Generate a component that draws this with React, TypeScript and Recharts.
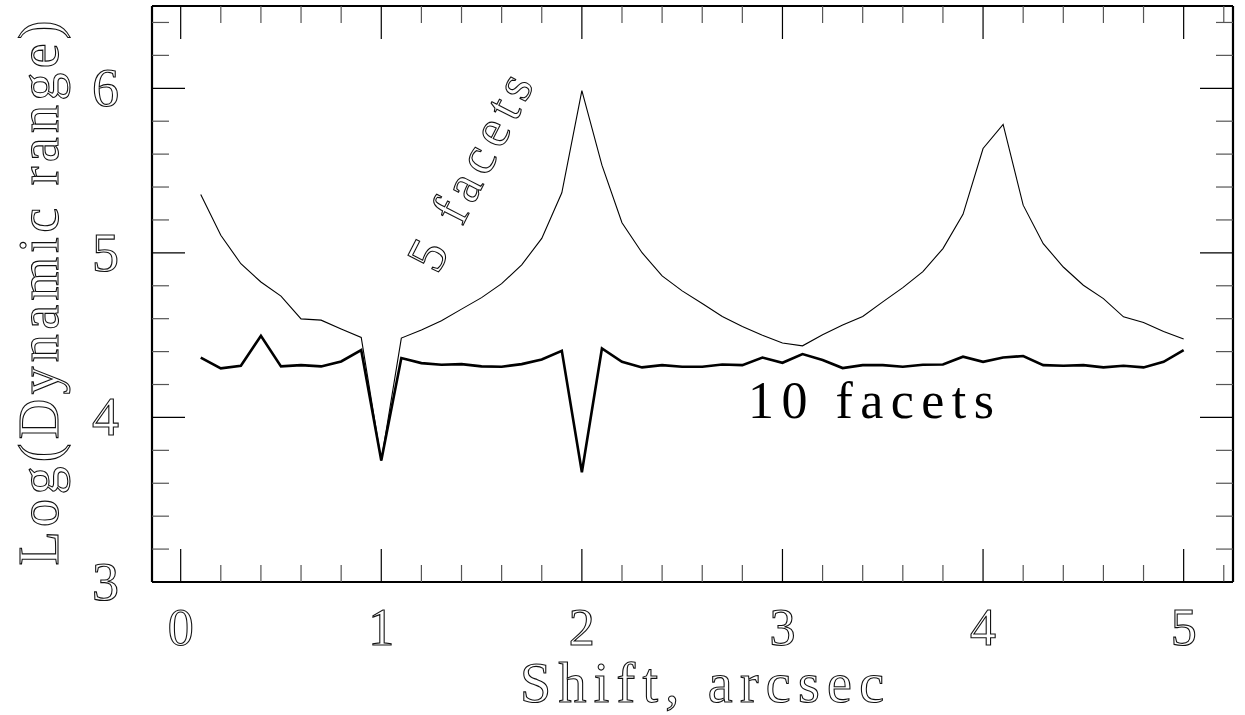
import React from 'react';
import { LineChart, Line, XAxis, YAxis, Customized } from 'recharts';

// shift in arcsec
const shifts = [
  0.1, 0.2, 0.3, 0.4, 0.5, 0.6, 0.7, 0.8, 0.9, 1.0,
  1.1, 1.2, 1.3, 1.4, 1.5, 1.6, 1.7, 1.8, 1.9, 2.0,
  2.1, 2.2, 2.3, 2.4, 2.5, 2.6, 2.7, 2.8, 2.9, 3.0,
  3.1, 3.2, 3.3, 3.4, 3.5, 3.6, 3.7, 3.8, 3.9, 4.0,
  4.1, 4.2, 4.3, 4.4, 4.5, 4.6, 4.7, 4.8, 4.9, 5.0,
];

// log(dynamic range), 5 facets
const facets5 = [
  5.355, 5.107, 4.934, 4.823, 4.737, 4.599, 4.591, 4.537, 4.486, 3.738,
  4.482, 4.531, 4.587, 4.658, 4.728, 4.813, 4.927, 5.088, 5.365, 5.986,
  5.533, 5.183, 5.001, 4.860, 4.769, 4.692, 4.613, 4.552, 4.500, 4.452,
  4.435, 4.502, 4.561, 4.613, 4.702, 4.789, 4.886, 5.026, 5.234, 5.634,
  5.780, 5.290, 5.056, 4.914, 4.803, 4.722, 4.611, 4.577, 4.522, 4.476,
];

// log(dynamic range), 10 facets
const facets10 = [
  4.364, 4.298, 4.314, 4.496, 4.310, 4.318, 4.310, 4.340, 4.409, 3.738,
  4.361, 4.330, 4.320, 4.324, 4.310, 4.308, 4.324, 4.352, 4.405, 3.667,
  4.419, 4.338, 4.304, 4.318, 4.308, 4.308, 4.322, 4.318, 4.364, 4.332,
  4.385, 4.349, 4.300, 4.318, 4.318, 4.308, 4.320, 4.322, 4.369, 4.338,
  4.364, 4.373, 4.318, 4.314, 4.318, 4.304, 4.314, 4.304, 4.338, 4.409,
];

const xTicks = [
  0, 0.2, 0.4, 0.6, 0.8, 1, 1.2, 1.4, 1.6, 1.8, 2, 2.2, 2.4, 2.6,
  2.8, 3, 3.2, 3.4, 3.6, 3.8, 4, 4.2, 4.4, 4.6, 4.8, 5, 5.2,
];
const yTicks = [
  3, 3.2, 3.4, 3.6, 3.8, 4, 4.2, 4.4, 4.6, 4.8, 5, 5.2, 5.4, 5.6, 5.8, 6, 6.2, 6.4,
];

const data = shifts.map((s, i) => ({ shift: s, f5: facets5[i], f10: facets10[i] }));

const FONT = '"Liberation Serif", "DejaVu Serif", serif';
const MAJOR = 33;
const MINOR = 17;
const X_DOMAIN = [-0.143, 5.246];
const Y_DOMAIN = [3, 6.5];

const isMajor = (v: number) => Math.abs(v - Math.round(v)) < 1e-6;

const outlineText = { fill: '#fff', stroke: '#111', strokeWidth: 1.1, fontFamily: FONT, fontSize: 52 };

function makeTick(side: 'bottom' | 'top' | 'left' | 'right') {
  return (props: any) => {
    const { x, y, payload } = props;
    const major = isMajor(payload.value);
    const len = major ? MAJOR : MINOR;
    const col = major ? '#000' : '#555';
    let line;
    if (side === 'bottom') line = <line x1={x} x2={x} y1={y} y2={y - len} stroke={col} strokeWidth={1.2} />;
    else if (side === 'top') line = <line x1={x} x2={x} y1={y} y2={y + len} stroke={col} strokeWidth={1.2} />;
    else if (side === 'left') line = <line x1={x} x2={x + len} y1={y} y2={y} stroke={col} strokeWidth={1.2} />;
    else line = <line x1={x} x2={x - len} y1={y} y2={y} stroke={col} strokeWidth={1.2} />;
    let label = null;
    if (major && side === 'bottom') {
      label = (
        <text x={x} y={y + 63} textAnchor="middle" {...outlineText}>
          {Math.round(payload.value)}
        </text>
      );
    } else if (major && side === 'left') {
      label = (
        <text x={x - 33} y={y + 18} textAnchor="end" {...outlineText} fontSize={54}>
          {Math.round(payload.value)}
        </text>
      );
    }
    return (
      <g>
        {line}
        {label}
      </g>
    );
  };
}

const Annotations = () => (
  <g>
    <text
      x={0}
      y={0}
      transform="translate(486 180) rotate(-63)"
      textAnchor="middle"
      textLength={214}
      lengthAdjust="spacing"
      {...outlineText}
      fontSize={54}
    >
      5 facets
    </text>
    <text x={748} y={418} textLength={246} lengthAdjust="spacing" fill="#000" fontFamily={FONT} fontSize={52}>
      10 facets
    </text>
    <text x={520} y={702} textLength={364} lengthAdjust="spacing" {...outlineText} fontSize={56}>
      Shift, arcsec
    </text>
    <text
      x={0}
      y={0}
      transform="translate(58 293) rotate(-90)"
      textAnchor="middle"
      textLength={545}
      lengthAdjust="spacing"
      {...outlineText}
      fontSize={56}
    >
      Log(Dynamic range)
    </text>
  </g>
);

export default function App() {
  return (
    <div style={{ position: 'absolute', left: 0, top: 0, background: '#fff' }}>
      <LineChart
        width={1245}
        height={715}
        data={data}
        margin={{ top: 5, right: 11, bottom: 132, left: 151 }}
      >
        <XAxis
          xAxisId="b"
          dataKey="shift"
          type="number"
          domain={X_DOMAIN}
          allowDataOverflow
          ticks={xTicks}
          interval={0}
          height={1}
          tickSize={0}
          tickMargin={0}
          tickLine={false}
          axisLine={{ stroke: '#000', strokeWidth: 2.2 }}
          tick={makeTick('bottom')}
        />
        <XAxis
          xAxisId="t"
          orientation="top"
          dataKey="shift"
          type="number"
          domain={X_DOMAIN}
          allowDataOverflow
          ticks={xTicks}
          interval={0}
          height={1}
          tickSize={0}
          tickMargin={0}
          tickLine={false}
          axisLine={{ stroke: '#000', strokeWidth: 2.2 }}
          tick={makeTick('top')}
        />
        <YAxis
          yAxisId="l"
          type="number"
          domain={Y_DOMAIN}
          allowDataOverflow
          ticks={yTicks}
          interval={0}
          width={1}
          tickSize={0}
          tickMargin={0}
          tickLine={false}
          axisLine={{ stroke: '#000', strokeWidth: 2.2 }}
          tick={makeTick('left')}
        />
        <YAxis
          yAxisId="r"
          orientation="right"
          type="number"
          domain={Y_DOMAIN}
          allowDataOverflow
          ticks={yTicks}
          interval={0}
          width={1}
          tickSize={0}
          tickMargin={0}
          tickLine={false}
          axisLine={{ stroke: '#000', strokeWidth: 2.2 }}
          tick={makeTick('right')}
        />
        <Line
          xAxisId="b"
          yAxisId="l"
          type="linear"
          dataKey="f5"
          stroke="#000"
          strokeWidth={1.1}
          dot={false}
          isAnimationActive={false}
        />
        <Line
          xAxisId="b"
          yAxisId="l"
          type="linear"
          dataKey="f10"
          stroke="#000"
          strokeWidth={2.6}
          dot={false}
          isAnimationActive={false}
        />
        <Line
          xAxisId="t"
          yAxisId="r"
          type="linear"
          dataKey="f10"
          stroke="none"
          dot={false}
          isAnimationActive={false}
        />
        <Customized component={Annotations} />
      </LineChart>
    </div>
  );
}
